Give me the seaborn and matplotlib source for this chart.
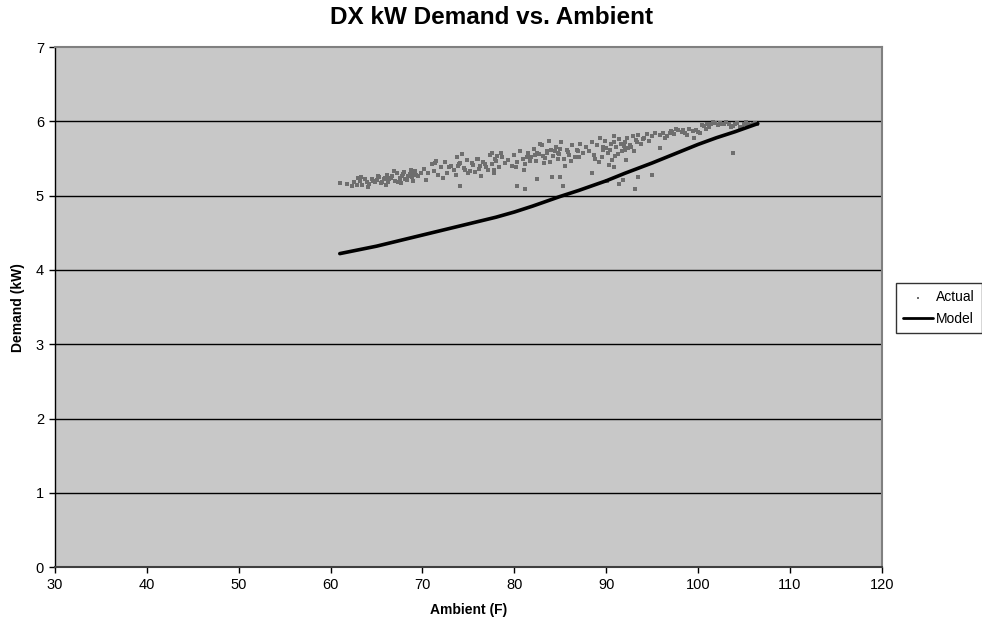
import matplotlib
matplotlib.use("Agg")
import matplotlib.pyplot as plt
import seaborn as sns
import pandas as pd

# ---- Data ----
actual_x_a = [61.0,61.8,62.3,62.6,62.9,63.2,63.4,63.7,64.0,64.2,64.5,64.8,65.0,65.3,65.6,65.9,66.1,66.4,66.7,67.0,67.2,67.5,67.8,68.0,68.3,68.6,68.9,69.2,69.5,69.8,66.0,67.3,68.1,68.7,65.2,64.1,66.9,67.7,69.0,63.0]
actual_y_a = [5.17,5.16,5.13,5.18,5.15,5.20,5.14,5.22,5.19,5.16,5.23,5.18,5.21,5.25,5.19,5.24,5.28,5.22,5.26,5.20,5.30,5.24,5.27,5.32,5.21,5.29,5.25,5.33,5.27,5.30,5.15,5.18,5.22,5.35,5.27,5.11,5.33,5.17,5.20,5.24]
actual_x_b = [70.2,70.6,71.0,71.3,71.7,72.0,72.4,72.7,73.1,73.4,73.8,74.1,74.5,74.8,75.2,75.5,75.9,76.2,76.6,76.9,77.3,77.6,78.0,78.3,78.7,79.0,73.6,74.3,75.0,75.7,76.4,77.1,77.8,72.2,71.5,74.0,76.0,78.5,77.6,77.8]
actual_y_b = [5.36,5.30,5.42,5.33,5.28,5.38,5.45,5.31,5.40,5.35,5.52,5.44,5.37,5.48,5.33,5.41,5.50,5.36,5.45,5.39,5.55,5.42,5.47,5.38,5.52,5.44,5.28,5.56,5.30,5.32,5.26,5.35,5.30,5.24,5.47,5.43,5.50,5.58,5.57,5.34]
actual_x_c = [79.3,79.7,80.0,80.3,80.6,80.9,81.2,81.5,81.8,82.1,82.4,82.7,83.0,83.3,83.6,83.9,84.2,84.5,84.8,85.1,85.4,85.7,86.0,86.3,86.6,86.9,87.2,87.5,87.8,80.2,81.0,81.7,82.5,83.2,84.0,84.7,85.5,86.2,87.0,82.8,83.8,85.0]
actual_y_c = [5.48,5.40,5.55,5.45,5.60,5.50,5.42,5.58,5.52,5.63,5.47,5.56,5.68,5.51,5.60,5.45,5.54,5.66,5.58,5.72,5.49,5.62,5.55,5.68,5.52,5.60,5.70,5.57,5.65,5.38,5.35,5.46,5.57,5.44,5.62,5.50,5.40,5.47,5.52,5.70,5.74,5.63]
actual_x_d = [88.1,88.4,88.7,89.0,89.3,89.6,89.9,90.2,90.5,90.8,91.1,91.4,91.7,92.0,92.3,92.6,92.9,93.2,93.5,93.8,94.1,94.4,94.7,95.0,95.3,88.8,89.5,90.0,90.6,91.3,92.0,92.7,89.2,90.3,91.0,93.0,95.8]
actual_y_d = [5.60,5.72,5.55,5.68,5.78,5.62,5.74,5.58,5.70,5.80,5.65,5.76,5.60,5.72,5.78,5.68,5.80,5.75,5.82,5.70,5.78,5.83,5.74,5.80,5.84,5.50,5.52,5.64,5.48,5.56,5.62,5.65,5.45,5.41,5.53,5.60,5.64]
actual_x_e = [95.8,96.2,96.6,97.0,97.4,97.8,98.2,98.6,99.0,99.4,99.8,100.2,100.6,101.0,101.4,101.8,102.2,102.6,103.0,103.4,103.8,104.2,104.6,105.0,105.4,105.8,106.2,96.4,97.6,98.8,100.0,101.2,102.4,103.6,104.8,106.0,99.6,100.9,96.9]
actual_y_e = [5.82,5.85,5.80,5.87,5.83,5.88,5.86,5.84,5.90,5.87,5.89,5.85,5.94,5.97,5.96,5.98,5.95,5.97,5.99,5.96,5.94,5.98,5.93,5.96,5.97,5.95,5.98,5.78,5.90,5.82,5.86,5.92,5.98,5.93,5.91,5.97,5.78,5.90,5.84]
actual_x_f = [64.6,65.8,66.6,67.6,68.4,69.3,66.3,67.9,65.5,68.9,72.9,73.9,75.4,76.8,77.9,74.6,76.3,78.1,81.4,82.3,83.5,84.4,85.8,86.8,83.1,84.9,89.7,90.4,91.6,92.4,93.3,94.0,90.9,91.9,100.4,101.6,102.8,104.0,105.2,106.4,98.4,97.2]
actual_y_f = [5.20,5.22,5.24,5.23,5.26,5.28,5.19,5.29,5.17,5.31,5.38,5.40,5.44,5.42,5.49,5.34,5.40,5.53,5.52,5.55,5.58,5.60,5.59,5.62,5.53,5.56,5.66,5.62,5.70,5.64,5.72,5.76,5.72,5.67,5.95,5.99,5.96,5.97,5.99,5.96,5.88,5.86]
outlier_x = [70.4,71.4,74.1,80.3,81.2,82.5,84.1,85.0,85.3,88.4,90.1,90.9,91.4,91.8,92.2,93.1,93.5,95.0,103.8,63.3]
outlier_y = [5.21,5.44,5.13,5.13,5.09,5.22,5.25,5.25,5.13,5.30,5.20,5.38,5.16,5.21,5.48,5.09,5.25,5.28,5.57,5.25]

model_x = [61.0, 63.0, 65.0, 67.0, 70.0, 72.0, 75.0, 78.0, 80.0, 82.0, 85.0, 87.0, 90.0, 92.0, 95.0, 97.0, 100.0, 102.0, 104.0, 106.5]
model_y = [4.22, 4.27, 4.32, 4.38, 4.47, 4.53, 4.62, 4.71, 4.78, 4.86, 4.99, 5.07, 5.20, 5.30, 5.44, 5.54, 5.69, 5.78, 5.86, 5.97]

x_ticks = [30, 40, 50, 60, 70, 80, 90, 100, 110, 120]
y_ticks = [0, 1, 2, 3, 4, 5, 6, 7]

actual = pd.DataFrame({
    "Ambient": actual_x_a + actual_x_b + actual_x_c + actual_x_d + actual_x_e + actual_x_f + outlier_x,
    "Demand": actual_y_a + actual_y_b + actual_y_c + actual_y_d + actual_y_e + actual_y_f + outlier_y,
})
model = pd.DataFrame({"Ambient": model_x, "Demand": model_y})

sns.set_theme(style="white")
plt.rcParams["font.family"] = ["Liberation Sans", "DejaVu Sans"]
plt.rcParams["text.color"] = "black"
plt.rcParams["axes.labelcolor"] = "black"
plt.rcParams["xtick.color"] = "black"
plt.rcParams["ytick.color"] = "black"

fig = plt.figure(figsize=(9.82, 6.28), dpi=100)
ax = fig.add_axes([0.056, 0.097, 0.842, 0.828])
ax.set_facecolor("#c8c8c8")

sns.scatterplot(data=actual, x="Ambient", y="Demand", ax=ax, marker="s", s=9,
                color="#6e6e6e", linewidth=0, label="Actual", zorder=3)
sns.lineplot(data=model, x="Ambient", y="Demand", ax=ax, color="black",
             linewidth=2.6, label="Model", zorder=4, sort=False, estimator=None)

ax.set_xlim(30, 120)
ax.set_ylim(0, 7)
ax.set_xticks(x_ticks)
ax.set_yticks(y_ticks)
ax.tick_params(axis="both", which="both", direction="out", length=4, width=1,
               color="black", labelcolor="black", labelsize=10.5, pad=4,
               bottom=True, left=True)
for y in y_ticks[1:-1]:
    ax.axhline(y, color="black", linewidth=1, zorder=1)

for side in ["top", "right"]:
    ax.spines[side].set_color("#808080")
    ax.spines[side].set_linewidth(1.5)
ax.spines["left"].set_color("black")
ax.spines["left"].set_linewidth(1)
ax.spines["bottom"].set_color("#404040")
ax.spines["bottom"].set_linewidth(1.5)

ax.set_xlabel("Ambient (F)", fontsize=10, fontweight="bold", labelpad=8)
ax.set_ylabel("Demand (kW)", fontsize=10, fontweight="bold", labelpad=8)
fig.text(0.5, 0.972, "DX kW Demand vs. Ambient", ha="center", va="center",
         fontsize=17.5, fontweight="bold", color="black")

leg = ax.legend(loc="center left", bbox_to_anchor=(1.017, 0.498), frameon=True,
                fancybox=False, fontsize=10, handlelength=2.2, handletextpad=0.2,
                borderpad=0.5, labelspacing=0.55, borderaxespad=0, markerscale=0.6)
leg.get_frame().set_edgecolor("black")
leg.get_frame().set_linewidth(1)
leg.get_frame().set_facecolor("white")
for line in leg.get_lines():
    line.set_linewidth(2)

fig.savefig("out.png", dpi=100, facecolor="white")
